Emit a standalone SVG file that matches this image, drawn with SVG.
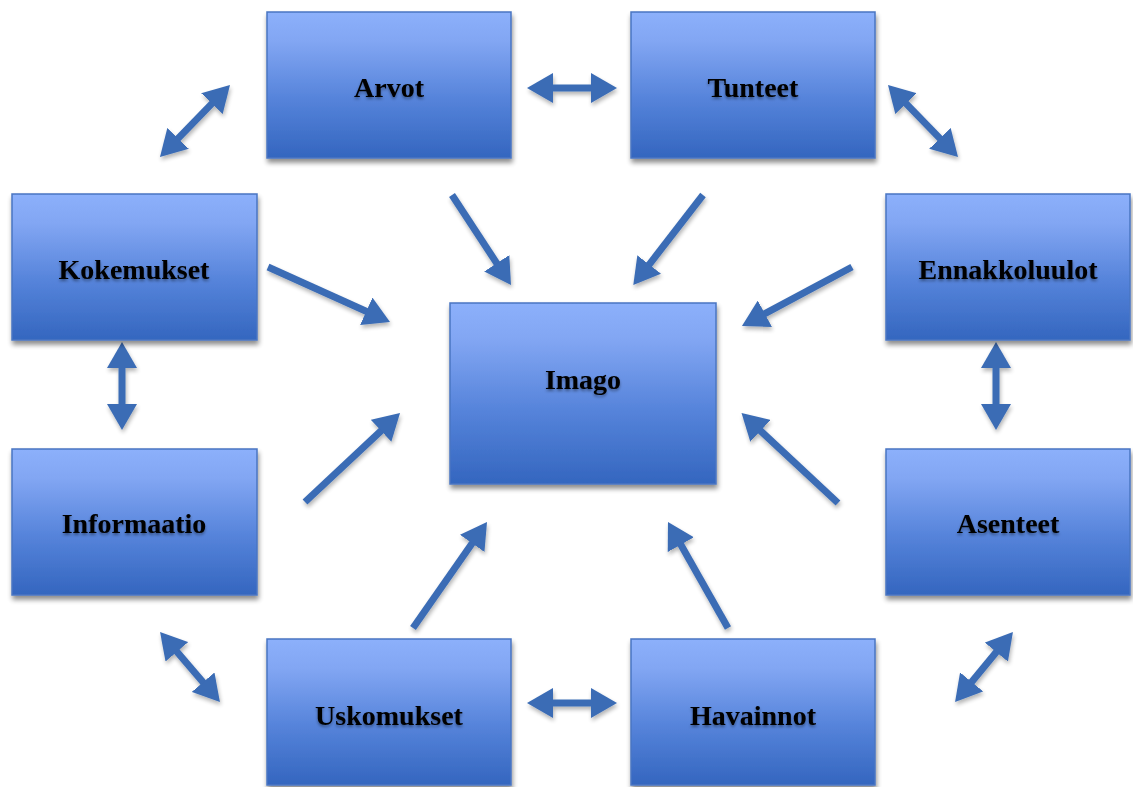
<svg xmlns="http://www.w3.org/2000/svg" width="1133" height="787" viewBox="0 0 1133 787">
  <defs>
    <linearGradient id="boxGrad" x1="0" y1="0" x2="0" y2="1">
      <stop offset="0" stop-color="#8cb0fb"/>
      <stop offset="0.2" stop-color="#82a6f3"/>
      <stop offset="0.6" stop-color="#5583da"/>
      <stop offset="1" stop-color="#3466bf"/>
    </linearGradient>
    <filter id="boxShadow" x="-10%" y="-10%" width="125%" height="125%">
      <feGaussianBlur in="SourceAlpha" stdDeviation="2.5"/>
      <feOffset dx="1" dy="4" result="b"/>
      <feComponentTransfer><feFuncA type="linear" slope="0.45"/></feComponentTransfer>
      <feMerge><feMergeNode/><feMergeNode in="SourceGraphic"/></feMerge>
    </filter>
    <filter id="textShadow" x="-10%" y="-30%" width="120%" height="160%">
      <feGaussianBlur in="SourceAlpha" stdDeviation="1.5"/>
      <feOffset dx="0" dy="2"/>
      <feComponentTransfer><feFuncA type="linear" slope="0.4"/></feComponentTransfer>
      <feMerge><feMergeNode/><feMergeNode in="SourceGraphic"/></feMerge>
    </filter>
    <filter id="arrowShadow" x="-20%" y="-20%" width="140%" height="140%">
      <feGaussianBlur in="SourceAlpha" stdDeviation="2"/>
      <feOffset dx="1" dy="3"/>
      <feComponentTransfer><feFuncA type="linear" slope="0.3"/></feComponentTransfer>
      <feMerge><feMergeNode/><feMergeNode in="SourceGraphic"/></feMerge>
    </filter>
    <marker id="head" viewBox="0 0 26 30" refX="1" refY="15" markerWidth="26" markerHeight="30" markerUnits="userSpaceOnUse" orient="auto-start-reverse">
      <path d="M0,0 L26,15 L0,30 Z" fill="#3b6cb5"/>
    </marker>
    <style>
      .box rect { fill: url(#boxGrad); stroke: #4a76c2; stroke-width: 1.5; filter: url(#boxShadow); }
      .box text { font-family: "Liberation Serif", "Times New Roman", serif; font-weight: bold; font-size: 28px; fill: #000; text-anchor: middle; filter: url(#textShadow); }
      .conn line { stroke: #3b6cb5; stroke-width: 7; }
      .one { marker-end: url(#head); }
      .two { marker-start: url(#head); marker-end: url(#head); }
    </style>
  </defs>
  <rect width="1133" height="787" fill="#fff"/>

  <g id="connectors" class="conn" filter="url(#arrowShadow)">
    <line class="two" x1="552" y1="88" x2="592" y2="88"/>
    <line class="two" x1="177.4" y1="139.1" x2="212.6" y2="102.9"/>
    <line class="two" x1="905.4" y1="102.9" x2="940.6" y2="139.1"/>
    <line class="two" x1="122" y1="367" x2="122" y2="405"/>
    <line class="two" x1="996" y1="367" x2="996" y2="405"/>
    <line class="two" x1="176.3" y1="651" x2="203.7" y2="683"/>
    <line class="two" x1="997" y1="651.3" x2="971" y2="682.7"/>
    <line class="two" x1="552" y1="703" x2="592" y2="703"/>
    <line class="one" x1="452" y1="195" x2="497.3" y2="264.1"/>
    <line class="one" x1="703" y1="195" x2="648.6" y2="265.3"/>
    <line class="one" x1="268" y1="267" x2="367.2" y2="311.7"/>
    <line class="one" x1="852" y1="267" x2="764" y2="314.2"/>
    <line class="one" x1="305" y1="502" x2="381.8" y2="430.1"/>
    <line class="one" x1="838" y1="503" x2="759.8" y2="430.1"/>
    <line class="one" x1="413" y1="628" x2="472.7" y2="542.5"/>
    <line class="one" x1="728" y1="628" x2="680.3" y2="543.8"/>
  </g>

  <g id="arvot" class="box"><rect x="267" y="12" width="244" height="146"/><text x="389" y="97">Arvot</text></g>
  <g id="tunteet" class="box"><rect x="631" y="12" width="244" height="146"/><text x="753" y="97">Tunteet</text></g>
  <g id="kokemukset" class="box"><rect x="12" y="194" width="245" height="146"/><text x="134" y="279">Kokemukset</text></g>
  <g id="ennakkoluulot" class="box"><rect x="886" y="194" width="244" height="146"/><text x="1008" y="279">Ennakkoluulot</text></g>
  <g id="imago" class="box"><rect x="450" y="303" width="266" height="181"/><text x="583" y="389">Imago</text></g>
  <g id="informaatio" class="box"><rect x="12" y="449" width="245" height="146"/><text x="134" y="533">Informaatio</text></g>
  <g id="asenteet" class="box"><rect x="886" y="449" width="244" height="146"/><text x="1008" y="533">Asenteet</text></g>
  <g id="uskomukset" class="box"><rect x="267" y="639" width="244" height="146"/><text x="389" y="725">Uskomukset</text></g>
  <g id="havainnot" class="box"><rect x="631" y="639" width="244" height="146"/><text x="753" y="725">Havainnot</text></g>
</svg>
